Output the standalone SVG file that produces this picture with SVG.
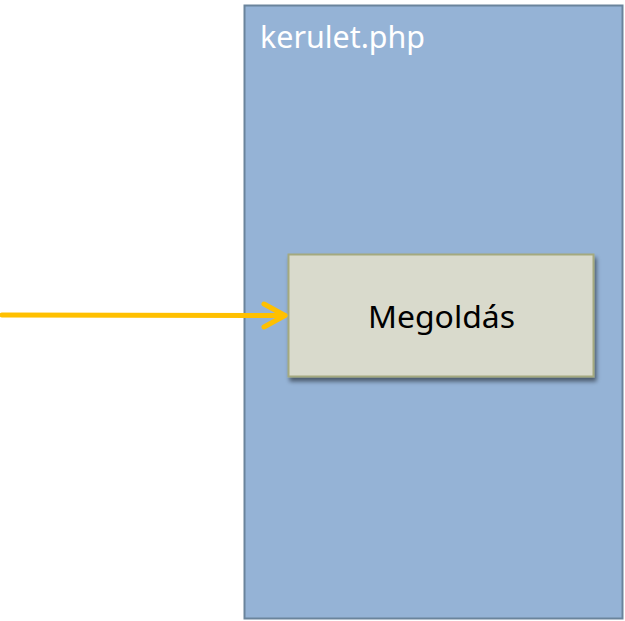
<svg xmlns="http://www.w3.org/2000/svg" width="625" height="621" viewBox="0 0 625 621">
<style>
.lbl{font-family:"Noto Sans","DejaVu Sans",sans-serif;}
</style>
<defs>
<filter id="sh" x="-10%" y="-10%" width="130%" height="130%">
<feGaussianBlur in="SourceAlpha" stdDeviation="2"/>
<feOffset dx="2" dy="4" result="b"/>
<feComponentTransfer><feFuncA type="linear" slope="0.5"/></feComponentTransfer>
<feMerge><feMergeNode/><feMergeNode in="SourceGraphic"/></feMerge>
</filter>
</defs>
<rect width="625" height="621" fill="#ffffff"/>
<g id="kerulet">
<rect x="244.5" y="5.5" width="378" height="613" fill="#95b3d6" stroke="#6a849c" stroke-width="2"/>
<text class="lbl" x="260" y="48" font-size="30" fill="#ffffff" textLength="165" lengthAdjust="spacingAndGlyphs">kerulet.php</text>
</g>
<g id="megoldas">
<rect x="288.5" y="254.5" width="305" height="122" fill="#d9dacc" stroke="#a4a97f" stroke-width="2" filter="url(#sh)"/>
<text class="lbl" x="368" y="328" font-size="30" fill="#000000" textLength="147" lengthAdjust="spacingAndGlyphs">Megoldás</text>
</g>
<g id="connectors" fill="none" stroke="#ffc000" stroke-width="5" stroke-linecap="round" stroke-linejoin="round">
<path d="M2 315 L285 315.5"/>
<path d="M264 304 L285 315.5 L264 327"/>
</g>
</svg>
